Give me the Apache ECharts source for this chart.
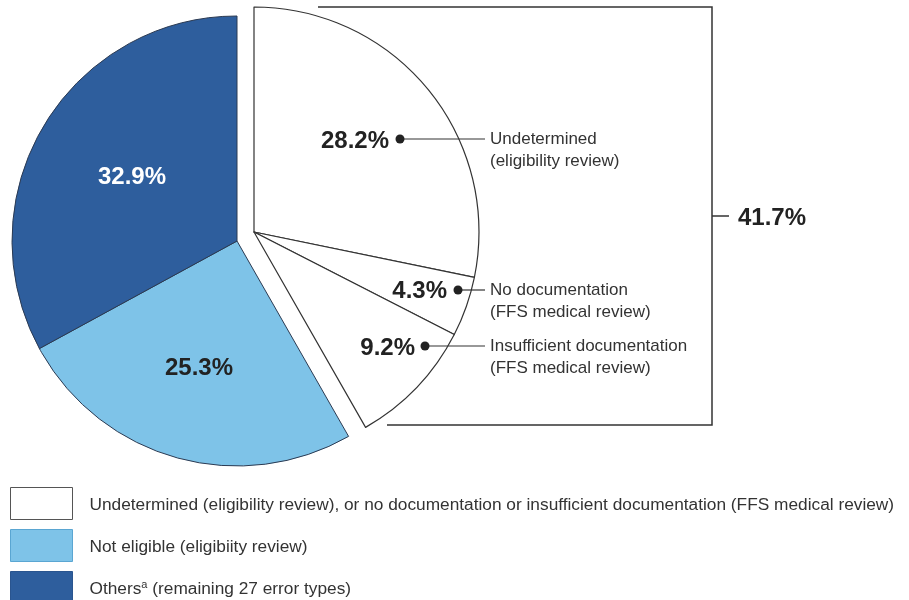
<!DOCTYPE html>
<html>
<head>
<meta charset="utf-8">
<script src="https://cdn.jsdelivr.net/npm/echarts@6/dist/echarts.min.js"></script>
<style>
html, body { margin: 0; padding: 0; background: #fff; }
#chart { width: 909px; height: 600px; }
</style>
</head>
<body>
<div id="chart"></div>
<script>
// slices, clockwise from 12 o'clock; the first three form the exploded group
var names = ['Undetermined', 'No documentation', 'Insufficient documentation',
    'Not eligible (eligibiity review)', 'Others'];
var values = [28.2, 4.3, 9.2, 25.3, 32.9];
var notes = ['Undetermined\n(eligibility review)', 'No documentation\n(FFS medical review)',
    'Insufficient documentation\n(FFS medical review)'];
var groupLegend = 'Undetermined (eligibility review), or no documentation or insufficient documentation (FFS medical review)';
var colors = ['#ffffff', '#ffffff', '#ffffff', '#7ec3e8', '#2e5e9d'];

var FONT = '"Liberation Sans", Arial, Helvetica, sans-serif';
var LINE = '#333';
var groupSize = 3;
var groupTotal = values.slice(0, groupSize).reduce(function (a, b) { return a + b; }, 0);

// where the percent labels and the callouts sit
var pctPos = [[389, 141], [447, 291], [415, 348], [199, 368], [132, 177]];
var dotX = [400, 458, 425];
var lineY = [139, 290, 346];
var noteX = 490;

var chart = echarts.init(document.getElementById('chart'));

var clear = { color: 'rgba(0,0,0,0)', borderWidth: 0 };

var baseData = values.map(function (v, i) {
    if (i < groupSize) return { name: names[i], value: v, itemStyle: clear, label: { show: false } };
    return {
        name: names[i], value: v,
        itemStyle: { color: colors[i], borderColor: '#2b3a52', borderWidth: 1 },
        label: { show: true, color: i === 4 ? '#fff' : '#222' }
    };
});

var groupData = values.map(function (v, i) {
    if (i >= groupSize) return { name: names[i], value: v, itemStyle: clear, label: { show: false } };
    return {
        name: names[i], value: v,
        itemStyle: { color: colors[i], borderColor: LINE, borderWidth: 1.2 },
        label: { show: true, color: '#222' }
    };
});

var noteData = values.map(function (v, i) {
    return { name: names[i], value: v, itemStyle: clear, label: { show: i < groupSize } };
});

var pctLabel = {
    position: 'inside',
    formatter: '{c}%',
    fontFamily: FONT,
    fontSize: 24,
    fontWeight: 'bold'
};

var graphics = [];
for (var i = 0; i < groupSize; i++) {
    graphics.push({
        type: 'line', silent: true, z: 100,
        shape: { x1: dotX[i], y1: lineY[i], x2: noteX - 5, y2: lineY[i] },
        style: { stroke: LINE, lineWidth: 1.2 }
    });
    graphics.push({
        type: 'circle', silent: true, z: 101,
        shape: { cx: dotX[i], cy: lineY[i], r: 4.5 },
        style: { fill: '#222' }
    });
}
// bracket around the exploded group
graphics.push({
    type: 'polyline', silent: true, z: 100,
    shape: { points: [[318, 7], [712, 7], [712, 425], [387, 425]] },
    style: { stroke: LINE, lineWidth: 1.5, fill: null }
});
graphics.push({
    type: 'line', silent: true, z: 100,
    shape: { x1: 712, y1: 216, x2: 729, y2: 216 },
    style: { stroke: LINE, lineWidth: 1.5 }
});
graphics.push({
    type: 'text', silent: true, z: 100, x: 738, y: 218,
    style: {
        text: groupTotal.toFixed(1) + '%', fill: '#222', font: 'bold 24px ' + FONT,
        textVerticalAlign: 'middle', verticalAlign: 'middle'
    }
});

chart.setOption({
    animation: false,
    backgroundColor: '#fff',
    legend: {
        orient: 'vertical',
        left: 10,
        top: 487,
        height: 200,
        padding: 0,
        itemWidth: 62,
        itemHeight: 32,
        itemGap: 9,
        icon: 'rect',
        selectedMode: false,
        data: [
            { name: groupLegend, itemStyle: { color: '#fff', borderColor: '#555', borderWidth: 1 } },
            { name: names[3], itemStyle: { color: colors[3], borderColor: '#5aa6d2', borderWidth: 1 } },
            { name: names[4], itemStyle: { color: colors[4], borderColor: '#2a558f', borderWidth: 1 } }
        ],
        formatter: function (name) {
            if (name === 'Others') return '{t|Others}{s|a}{t| (remaining 27 error types)}';
            return '{t|' + name + '}';
        },
        textStyle: {
            fontFamily: FONT,
            fontSize: 17.3,
            color: '#333',
            padding: [3, 0, 0, 12],
            rich: {
                t: { fontFamily: FONT, fontSize: 17.3, color: '#333' },
                s: { fontFamily: FONT, fontSize: 11, color: '#333', padding: [0, 0, 9, 0] }
            }
        }
    },
    graphic: graphics,
    series: [
        {
            name: 'base',
            type: 'pie',
            center: [237, 241],
            radius: 225,
            startAngle: 90,
            clockwise: true,
            avoidLabelOverlap: false,
            emphasis: { disabled: true },
            label: pctLabel,
            labelLine: { show: false },
            labelLayout: function (p) {
                var pos = pctPos[p.dataIndex];
                return { x: pos[0], y: pos[1], align: 'center', verticalAlign: 'middle' };
            },
            data: baseData
        },
        {
            name: 'group',
            type: 'pie',
            center: [254, 232],
            radius: 225,
            startAngle: 90,
            clockwise: true,
            avoidLabelOverlap: false,
            emphasis: { disabled: true },
            label: pctLabel,
            labelLine: { show: false },
            labelLayout: function (p) {
                var pos = pctPos[p.dataIndex];
                return { x: pos[0], y: pos[1], align: 'right', verticalAlign: 'middle' };
            },
            data: groupData
        },
        {
            name: 'notes',
            type: 'pie',
            center: [254, 232],
            radius: 225,
            startAngle: 90,
            clockwise: true,
            silent: true,
            avoidLabelOverlap: false,
            emphasis: { disabled: true },
            label: {
                position: 'inside',
                formatter: function (p) { return notes[p.dataIndex]; },
                fontFamily: FONT,
                fontSize: 17,
                lineHeight: 22,
                color: '#333'
            },
            labelLine: { show: false },
            labelLayout: function (p) {
                return { x: noteX, y: lineY[p.dataIndex] - 11, align: 'left', verticalAlign: 'top' };
            },
            data: noteData
        },
        {
            // only here so the legend has an entry for the exploded group
            name: 'groupKey',
            type: 'pie',
            center: [237, 241],
            radius: [0, 0],
            silent: true,
            label: { show: false },
            labelLine: { show: false },
            itemStyle: { color: '#fff', borderWidth: 0 },
            data: [{ name: groupLegend, value: groupTotal }]
        }
    ]
});
</script>
</body>
</html>
